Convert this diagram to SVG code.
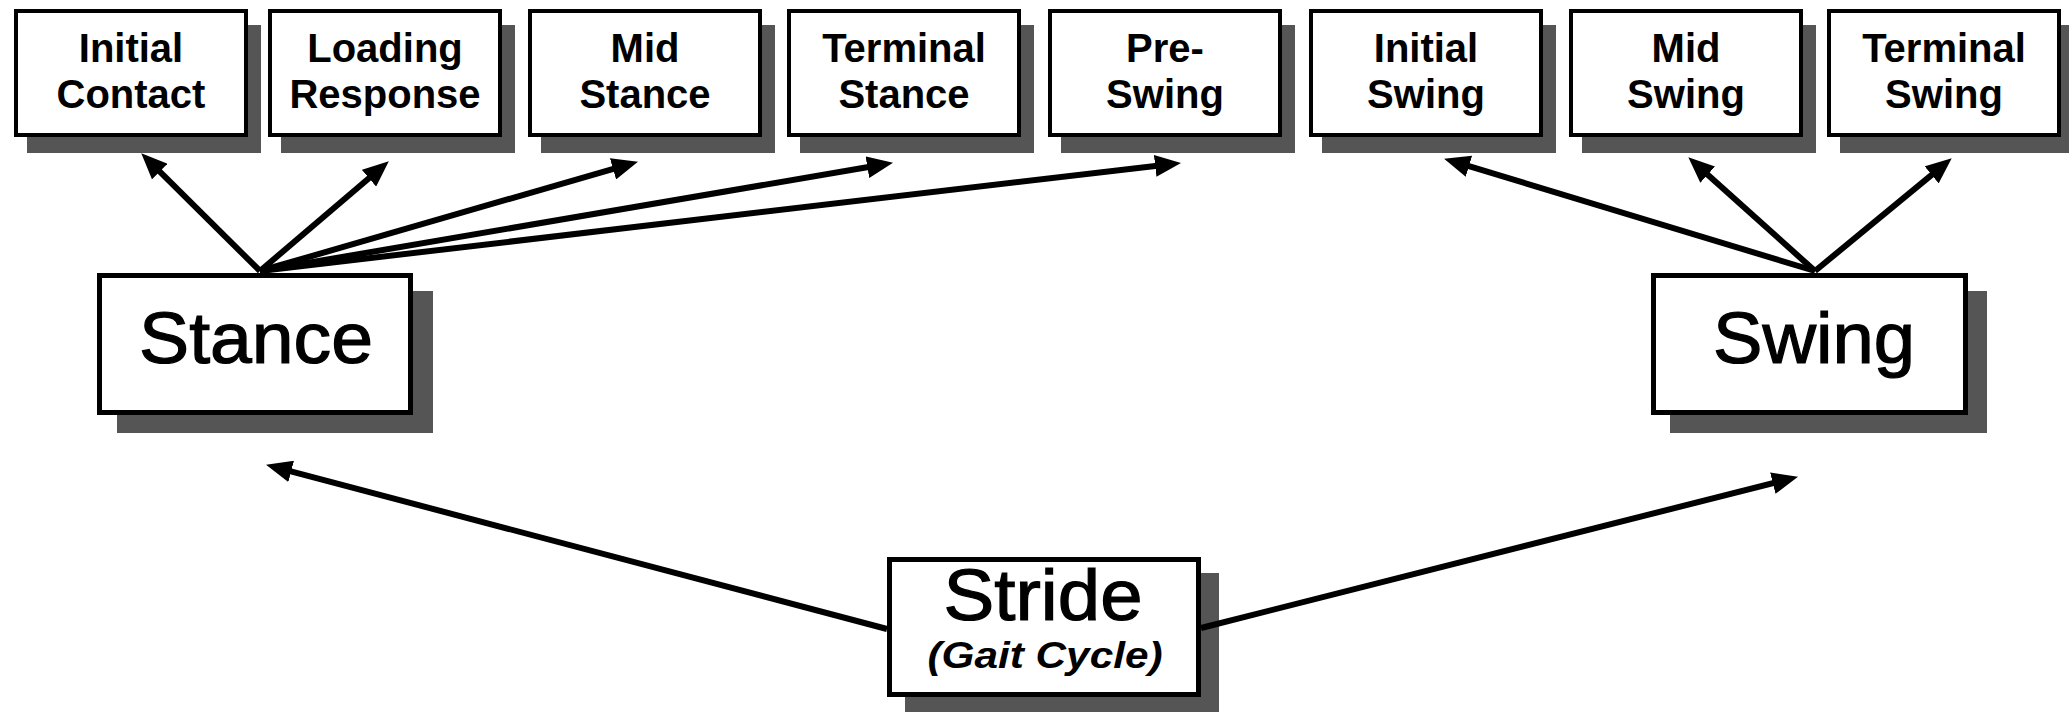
<svg xmlns="http://www.w3.org/2000/svg" width="2069" height="712" viewBox="0 0 2069 712">
<style>
  .bg { fill: #ffffff; }
  .shadow { fill: #555555; }
  .box { fill: #ffffff; stroke: #000000; stroke-width: 4; }
  .bigbox { fill: #ffffff; stroke: #000000; stroke-width: 5; }
  .small { font-family: "Liberation Sans", Arial, sans-serif; font-weight: bold; font-size: 40px; text-anchor: middle; fill: #000000; }
  .big { font-family: "Liberation Sans", Arial, sans-serif; font-size: 72px; text-anchor: middle; fill: #000000; stroke: #000000; stroke-width: 1.2; }
  .sub { font-family: "Liberation Sans", Arial, sans-serif; font-weight: bold; font-style: italic; font-size: 36px; text-anchor: middle; fill: #000000; }
  .conn { fill: none; stroke: #000000; stroke-width: 6; stroke-linecap: butt; }
</style>
<defs>
  <marker id="arrow" viewBox="0 0 26 22" refX="13" refY="11" markerWidth="26" markerHeight="22" markerUnits="userSpaceOnUse" orient="auto">
    <path d="M0,0 L26,11 L0,22 Z" fill="#000000"/>
  </marker>
</defs>
<rect class="bg" x="0" y="0" width="2069" height="712"/>

<g id="initial-contact">
  <rect class="shadow" x="27" y="25" width="234" height="128"/>
  <rect class="box" x="16" y="11" width="230" height="124"/>
  <text class="small" x="131" y="62">Initial</text>
  <text class="small" x="131" y="108">Contact</text>
</g>
<g id="loading-response">
  <rect class="shadow" x="281" y="25" width="234" height="128"/>
  <rect class="box" x="270" y="11" width="230" height="124"/>
  <text class="small" x="385" y="62">Loading</text>
  <text class="small" x="385" y="108">Response</text>
</g>
<g id="mid-stance">
  <rect class="shadow" x="541" y="25" width="234" height="128"/>
  <rect class="box" x="530" y="11" width="230" height="124"/>
  <text class="small" x="645" y="62">Mid</text>
  <text class="small" x="645" y="108">Stance</text>
</g>
<g id="terminal-stance">
  <rect class="shadow" x="800" y="25" width="234" height="128"/>
  <rect class="box" x="789" y="11" width="230" height="124"/>
  <text class="small" x="904" y="62">Terminal</text>
  <text class="small" x="904" y="108">Stance</text>
</g>
<g id="pre-swing">
  <rect class="shadow" x="1061" y="25" width="234" height="128"/>
  <rect class="box" x="1050" y="11" width="230" height="124"/>
  <text class="small" x="1165" y="62">Pre-</text>
  <text class="small" x="1165" y="108">Swing</text>
</g>
<g id="initial-swing">
  <rect class="shadow" x="1322" y="25" width="234" height="128"/>
  <rect class="box" x="1311" y="11" width="230" height="124"/>
  <text class="small" x="1426" y="62">Initial</text>
  <text class="small" x="1426" y="108">Swing</text>
</g>
<g id="mid-swing">
  <rect class="shadow" x="1582" y="25" width="234" height="128"/>
  <rect class="box" x="1571" y="11" width="230" height="124"/>
  <text class="small" x="1686" y="62">Mid</text>
  <text class="small" x="1686" y="108">Swing</text>
</g>
<g id="terminal-swing">
  <rect class="shadow" x="1840" y="25" width="234" height="128"/>
  <rect class="box" x="1829" y="11" width="230" height="124"/>
  <text class="small" x="1944" y="62">Terminal</text>
  <text class="small" x="1944" y="108">Swing</text>
</g>

<g id="stance">
  <rect class="shadow" x="117" y="291" width="316" height="142"/>
  <rect class="bigbox" x="99.5" y="275.5" width="311" height="137"/>
  <text class="big" x="256" y="363" textLength="234" lengthAdjust="spacingAndGlyphs">Stance</text>
</g>
<g id="swing">
  <rect class="shadow" x="1670" y="291" width="317" height="142"/>
  <rect class="bigbox" x="1653.5" y="275.5" width="312" height="137"/>
  <text class="big" x="1814" y="363" textLength="202" lengthAdjust="spacingAndGlyphs">Swing</text>
</g>
<g id="stride">
  <rect class="shadow" x="905" y="573" width="314" height="140"/>
  <rect class="bigbox" x="889.5" y="559.5" width="309" height="135"/>
  <text class="big" x="1043" y="620" font-size="68" textLength="199" lengthAdjust="spacingAndGlyphs">Stride</text>
  <text class="sub" x="1045" y="668" textLength="235" lengthAdjust="spacingAndGlyphs">(Gait Cycle)</text>
</g>

<g id="connectors">
  <path class="conn" marker-end="url(#arrow)" d="M260,271 L150.5,162.4"/>
  <path class="conn" marker-end="url(#arrow)" d="M260,271 L378.9,169.8"/>
  <path class="conn" marker-end="url(#arrow)" d="M260,271 L625.5,165.3"/>
  <path class="conn" marker-end="url(#arrow)" d="M260,271 L880.2,165.0"/>
  <path class="conn" marker-end="url(#arrow)" d="M260,271 L1168.1,164.4"/>
  <path class="conn" marker-end="url(#arrow)" d="M1815,271 L1456.5,162.4"/>
  <path class="conn" marker-end="url(#arrow)" d="M1815,271 L1698.0,166.0"/>
  <path class="conn" marker-end="url(#arrow)" d="M1815,271 L1941.7,166.6"/>
  <path class="conn" marker-end="url(#arrow)" d="M887,629 L278.6,468.1"/>
  <path class="conn" marker-end="url(#arrow)" d="M1201,628 L1785.4,480.0"/>
</g>
</svg>
